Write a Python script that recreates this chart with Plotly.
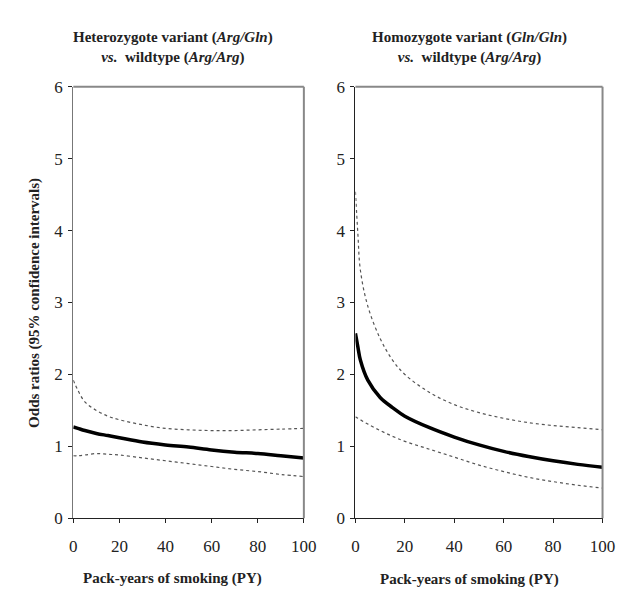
import plotly.graph_objects as go

# ---- data ----
py_left = [0, 2, 5, 10, 15, 20, 30, 40, 50, 60, 70, 80, 90, 100]
het_or = [1.27, 1.25, 1.22, 1.18, 1.15, 1.12, 1.06, 1.02, 0.99, 0.95, 0.92, 0.90, 0.87, 0.84]
het_upper = [1.92, 1.78, 1.62, 1.50, 1.42, 1.37, 1.30, 1.25, 1.23, 1.22, 1.22, 1.23, 1.24, 1.25]
het_lower = [0.87, 0.87, 0.88, 0.90, 0.89, 0.88, 0.84, 0.80, 0.76, 0.72, 0.68, 0.65, 0.61, 0.58]

py_right = [0, 1, 2, 5, 10, 15, 20, 30, 40, 50, 60, 70, 80, 90, 100]
hom_or = [2.57, 2.38, 2.20, 1.92, 1.68, 1.54, 1.42, 1.26, 1.13, 1.02, 0.93, 0.86, 0.80, 0.75, 0.71]
hom_upper = [4.54, 3.95, 3.45, 2.95, 2.50, 2.20, 2.00, 1.75, 1.58, 1.47, 1.39, 1.33, 1.29, 1.26, 1.23]
hom_lower = [1.41, 1.39, 1.37, 1.31, 1.22, 1.14, 1.07, 0.96, 0.85, 0.74, 0.65, 0.57, 0.51, 0.46, 0.42]

x_ticks = [0, 20, 40, 60, 80, 100]
y_ticks = [0, 1, 2, 3, 4, 5, 6]

title_left = "Heterozygote variant (<i>Arg/Gln</i>)<br><i>vs.</i>  wildtype (<i>Arg/Arg</i>)"
title_right = "Homozygote variant (<i>Gln/Gln</i>)<br><i>vs.</i>  wildtype (<i>Arg/Arg</i>)"
x_title = "Pack-years of smoking (PY)"
y_title = "Odds ratios (95% confidence intervals)"

FONT = "Liberation Serif"
fig = go.Figure()

def add_panel(xs, mid, up, lo, xa, ya):
    for ys in (up, lo):
        fig.add_trace(go.Scatter(x=xs, y=ys, mode="lines", xaxis=xa, yaxis=ya,
                                 line=dict(color="#555555", width=1.2, dash="dot", shape="spline"),
                                 showlegend=False, hoverinfo="skip"))
    fig.add_trace(go.Scatter(x=xs, y=mid, mode="lines", xaxis=xa, yaxis=ya,
                             line=dict(color="black", width=3.5, shape="spline"),
                             showlegend=False, hoverinfo="skip"))

add_panel(py_left, het_or, het_upper, het_lower, "x", "y")
add_panel(py_right, hom_or, hom_upper, hom_lower, "x2", "y2")

xd1 = [63 / 627, 300 / 627]
xd2 = [353 / 627, 607 / 627]
yd = [(590 - 518) / 590, (590 - 72) / 590]

axis_common = dict(showgrid=False, zeroline=False, showline=True,
                   linewidth=1.3, ticks="outside", ticklen=4, tickcolor="#222222",
                   tickfont=dict(family=FONT, size=17, color="#222222"))

fig.update_layout(
    width=627, height=590, margin=dict(l=0, r=0, t=0, b=0),
    paper_bgcolor="white", plot_bgcolor="white",
    xaxis=dict(domain=xd1, range=[0, 100], tickvals=x_ticks, anchor="y", ticklabelstandoff=8,
               linecolor="#222222", **axis_common),
    yaxis=dict(domain=yd, range=[0, 6], tickvals=y_ticks, anchor="x", ticklabelstandoff=2,
               linecolor="#777777", **axis_common),
    xaxis2=dict(domain=xd2, range=[0, 100], tickvals=x_ticks, anchor="y2", ticklabelstandoff=8,
                linecolor="#222222", **axis_common),
    yaxis2=dict(domain=yd, range=[0, 6], tickvals=y_ticks, anchor="x2", ticklabelstandoff=2,
                linecolor="#222222", **axis_common),
)

# frame top/right in gray
for xr, yr in (("x domain", "y domain"), ("x2 domain", "y2 domain")):
    fig.add_shape(type="line", xref=xr, yref=yr, x0=0, x1=1, y0=1, y1=1,
                  line=dict(color="#888888", width=2))
    fig.add_shape(type="line", xref=xr, yref=yr, x0=1, x1=1, y0=0, y1=1,
                  line=dict(color="#888888", width=2))

tfont = dict(family=FONT, size=15, color="#222222")
fig.add_annotation(text="<b>" + title_left + "</b>", x=165 / 627, y=1 - 32 / 590, xref="paper", yref="paper",
                   showarrow=False, font=tfont, align="center", xanchor="center", yanchor="middle")
fig.add_annotation(text="<b>" + title_right + "</b>", x=470 / 627, y=1 - 32 / 590, xref="paper", yref="paper",
                   showarrow=False, font=tfont, align="center", xanchor="center", yanchor="middle")
fig.add_annotation(text="<b>" + x_title + "</b>", x=165 / 627, y=1 - 580 / 590, xref="paper", yref="paper",
                   showarrow=False, font=tfont, xanchor="center", yanchor="middle")
fig.add_annotation(text="<b>" + x_title + "</b>", x=470 / 627, y=1 - 581 / 590, xref="paper", yref="paper",
                   showarrow=False, font=tfont, xanchor="center", yanchor="middle")
fig.add_annotation(text="<b>" + y_title + "</b>", x=23 / 627, y=1 - 295 / 590, xref="paper", yref="paper",
                   showarrow=False, font=dict(family=FONT, size=15, color="#222222"), textangle=-90,
                   xanchor="center", yanchor="middle")

fig.write_html("out.html")
